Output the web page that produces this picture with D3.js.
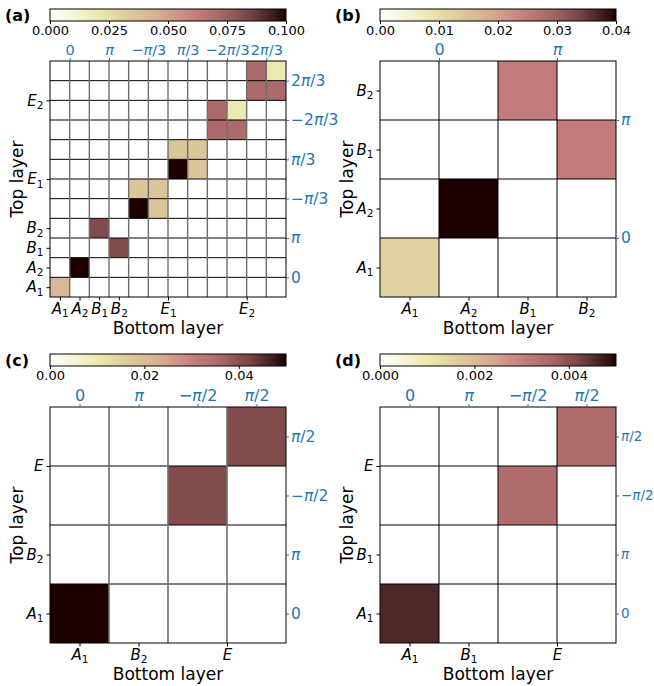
<!DOCTYPE html>
<html><head><meta charset="utf-8">
<script src="https://cdn.jsdelivr.net/npm/d3@7"></script>
<style>body{margin:0;background:#fff} svg text{font-family:"DejaVu Sans",sans-serif}</style>
</head><body>
<svg id="fig" width="654" height="686"></svg>
<script>
// ---------------- DATA ----------------
// Colormap stops (fraction of colour range -> colour)
const cmapStops = [0, 0.10, 0.22, 0.35, 0.48, 0.60, 0.72, 0.85, 0.95, 1.0];
const cmapColors = ["#fefefa","#f6f4dc","#e9e7aa","#dcc79c","#d4a990","#c88080","#aa6868","#754444","#3a1c1c","#1c0000"];

// Panel (a): 12x12, rows from bottom (index 0) to top (index 11)
const aBottomTicks = [0, 1, 2, 3, 5.5, 9.5];
const aBottomLabels = ["A_1","A_2","B_1","B_2","E_1","E_2"];
const aLeftTicks = [0, 1, 2, 3, 5.5, 9.5];
const aLeftLabels = ["A_1","A_2","B_1","B_2","E_1","E_2"];
const aTopTicks = [0.5, 2.5, 4.5, 6.5, 8.5, 10.5];
const aTopLabels = ["0","π","−π/3","π/3","−2π/3","2π/3"];
const aRightTicks = [0.5, 2.5, 4.5, 6.5, 8.5, 10.5];
const aRightLabels = ["0","π","−π/3","π/3","−2π/3","2π/3"];
const aCbTicks = [0, 0.025, 0.05, 0.075, 0.1];
const aCbMax = 0.1;
const aValues = [
  [0.042,0,0,0,0,0,0,0,0,0,0,0],
  [0,0.1,0,0,0,0,0,0,0,0,0,0],
  [0,0,0,0.082,0,0,0,0,0,0,0,0],
  [0,0,0.082,0,0,0,0,0,0,0,0,0],
  [0,0,0,0,0.1,0.036,0,0,0,0,0,0],
  [0,0,0,0,0.036,0.036,0,0,0,0,0,0],
  [0,0,0,0,0,0,0.1,0.036,0,0,0,0],
  [0,0,0,0,0,0,0.036,0.036,0,0,0,0],
  [0,0,0,0,0,0,0,0,0.071,0.071,0,0],
  [0,0,0,0,0,0,0,0,0.071,0.02,0,0],
  [0,0,0,0,0,0,0,0,0,0,0.071,0.071],
  [0,0,0,0,0,0,0,0,0,0,0.071,0.02]
];

// Panel (b): 4x4
const bBottomTicks = [0, 1, 2, 3];
const bBottomLabels = ["A_1","A_2","B_1","B_2"];
const bLeftTicks = [0, 1, 2, 3];
const bLeftLabels = ["A_1","A_2","B_1","B_2"];
const bTopTicks = [0.5, 2.5];
const bTopLabels = ["0","π"];
const bRightTicks = [0.5, 2.5];
const bRightLabels = ["0","π"];
const bCbTicks = [0, 0.01, 0.02, 0.03, 0.04];
const bCbMax = 0.04;
const bValues = [
  [0.012,0,0,0],
  [0,0.04,0,0],
  [0,0,0,0.025],
  [0,0,0.025,0]
];

// Panel (c): 4x4
const cBottomTicks = [0, 1, 2.5];
const cBottomLabels = ["A_1","B_2","E"];
const cLeftTicks = [0, 1, 2.5];
const cLeftLabels = ["A_1","B_2","E"];
const cTopTicks = [0, 1, 2, 3];
const cTopLabels = ["0","π","−π/2","π/2"];
const cRightTicks = [0, 1, 2, 3];
const cRightLabels = ["0","π","−π/2","π/2"];
const cCbTicks = [0, 0.02, 0.04];
const cCbMax = 0.05;
const cValues = [
  [0.05,0,0,0],
  [0,0,0,0],
  [0,0,0.041,0],
  [0,0,0,0.041]
];

// Panel (d): 4x4
const dBottomTicks = [0, 1, 2.5];
const dBottomLabels = ["A_1","B_1","E"];
const dLeftTicks = [0, 1, 2.5];
const dLeftLabels = ["A_1","B_1","E"];
const dTopTicks = [0, 1, 2, 3];
const dTopLabels = ["0","π","−π/2","π/2"];
const dRightTicks = [0, 1, 2, 3];
const dRightLabels = ["0","π","−π/2","π/2"];
const dCbTicks = [0, 0.002, 0.004];
const dCbMax = 0.005;
const dValues = [
  [0.0046,0,0,0],
  [0,0,0,0],
  [0,0,0.0035,0],
  [0,0,0,0.0035]
];

// ---------------- DRAWING ----------------
const svg = d3.select("#fig");
const BLUE = "#1f77b4";

function richLabel(textSel, s, size) {
  textSel.text(null);
  const sub = s.split("_");
  const main = sub[0];
  for (const ch of main) {
    textSel.append("tspan").text(ch)
      .style("font-style", (ch === "π" || /[A-Z]/.test(ch)) ? "italic" : "normal");
  }
  if (sub.length > 1) {
    textSel.append("tspan").text(sub[1])
      .attr("font-size", size * 0.7)
      .attr("dy", size * 0.22);
  }
}

const panels = [
  {id:"(a)", gx:50, gy:61, cbY:9, vals:aValues, cbMax:aCbMax, cbTicks:aCbTicks, cbFmt:".3f", tfs:14.5, rfs:15.5,
   bt:aBottomTicks, bl:aBottomLabels, lt:aLeftTicks, ll:aLeftLabels, tt:aTopTicks, tl:aTopLabels, rt:aRightTicks, rl:aRightLabels, vcol:"#6f6f6f", vw:1.4},
  {id:"(b)", gx:380, gy:61, cbY:9, vals:bValues, cbMax:bCbMax, cbTicks:bCbTicks, cbFmt:".2f", tfs:16, rfs:15.5,
   bt:bBottomTicks, bl:bBottomLabels, lt:bLeftTicks, ll:bLeftLabels, tt:bTopTicks, tl:bTopLabels, rt:bRightTicks, rl:bRightLabels, vcol:"#000", vw:1},
  {id:"(c)", gx:50, gy:407, cbY:354, vals:cValues, cbMax:cCbMax, cbTicks:cCbTicks, cbFmt:".2f", tfs:16, rfs:15.5,
   bt:cBottomTicks, bl:cBottomLabels, lt:cLeftTicks, ll:cLeftLabels, tt:cTopTicks, tl:cTopLabels, rt:cRightTicks, rl:cRightLabels, vcol:"#6f6f6f", vw:1.6},
  {id:"(d)", gx:380, gy:407, cbY:354, vals:dValues, cbMax:dCbMax, cbTicks:dCbTicks, cbFmt:".3f", tfs:16, rfs:13.5,
   bt:dBottomTicks, bl:dBottomLabels, lt:dLeftTicks, ll:dLeftLabels, tt:dTopTicks, tl:dTopLabels, rt:dRightTicks, rl:dRightLabels, vcol:"#000", vw:1}
];

const W = 236, H = 236, CBH = 12;
const defs = svg.append("defs");

panels.forEach((p, pi) => {
  const n = p.vals.length;
  const g = svg.append("g");
  const x = d3.scaleLinear().domain([-0.5, n - 0.5]).range([p.gx, p.gx + W]);
  const y = d3.scaleLinear().domain([-0.5, n - 0.5]).range([p.gy + H, p.gy]);
  const color = d3.scaleLinear()
    .domain(cmapStops.map(f => f * p.cbMax))
    .range(cmapColors).clamp(true);

  // cells
  const cells = [];
  p.vals.forEach((row, r) => row.forEach((v, c) => cells.push({r, c, v})));
  g.selectAll("rect.cell").data(cells).join("rect")
    .attr("x", d => x(d.c - 0.5)).attr("y", d => y(d.r + 0.5))
    .attr("width", d => x(d.c + 0.5) - x(d.c - 0.5))
    .attr("height", d => y(d.r - 0.5) - y(d.r + 0.5))
    .attr("fill", d => d.v > 0 ? color(d.v) : "#ffffff");

  // grid lines
  const bounds = d3.range(1, n).map(i => i - 0.5);
  g.selectAll("line.h").data(bounds).join("line")
    .attr("x1", x(-0.5)).attr("x2", x(n - 0.5))
    .attr("y1", d => y(d)).attr("y2", d => y(d))
    .attr("stroke", "#000").attr("stroke-width", 1);
  g.selectAll("line.v").data(bounds).join("line")
    .attr("y1", y(-0.5)).attr("y2", y(n - 0.5))
    .attr("x1", d => x(d)).attr("x2", d => x(d))
    .attr("stroke", p.vcol).attr("stroke-width", p.vw);
  g.append("rect").attr("x", p.gx).attr("y", p.gy).attr("width", W).attr("height", H)
    .attr("fill", "none").attr("stroke", "#000").attr("stroke-width", 1);

  // axes
  const fs = 15;
  const axB = g.append("g").attr("transform", `translate(0,${p.gy + H})`)
    .call(d3.axisBottom(x).tickValues(p.bt).tickSize(3.5).tickPadding(3).tickFormat(""));
  axB.selectAll("text").each(function(d, i){ richLabel(d3.select(this), p.bl[i], fs); }).attr("font-size", fs).attr("fill", "#000");
  const axL = g.append("g").attr("transform", `translate(${p.gx},0)`)
    .call(d3.axisLeft(y).tickValues(p.lt).tickSize(3.5).tickPadding(3).tickFormat(""));
  axL.selectAll("text").each(function(d, i){ richLabel(d3.select(this), p.ll[i], fs); }).attr("font-size", fs).attr("fill", "#000");
  const axT = g.append("g").attr("transform", `translate(0,${p.gy})`)
    .call(d3.axisTop(x).tickValues(p.tt).tickSize(3).tickPadding(3.5).tickFormat(""));
  axT.selectAll("text").each(function(d, i){ richLabel(d3.select(this), p.tl[i], p.tfs); }).attr("font-size", p.tfs).attr("fill", BLUE);
  axT.selectAll("line").attr("stroke", BLUE);
  const axR = g.append("g").attr("transform", `translate(${p.gx + W},0)`)
    .call(d3.axisRight(y).tickValues(p.rt).tickSize(3).tickPadding(2).tickFormat(""));
  axR.selectAll("text").each(function(d, i){ richLabel(d3.select(this), p.rl[i], p.rfs); }).attr("font-size", p.rfs).attr("fill", BLUE);
  axR.selectAll("line").attr("stroke", BLUE);
  [axB, axL, axT, axR].forEach(a => { a.select(".domain").remove(); a.attr("font-family", null); });

  // axis titles
  g.append("text").attr("x", p.gx + W / 2).attr("y", p.gy + H + 37)
    .attr("text-anchor", "middle").attr("font-size", 17).text("Bottom layer");
  g.append("text").attr("transform", `translate(${p.gx - 27},${p.gy + H / 2}) rotate(-90)`)
    .attr("text-anchor", "middle").attr("font-size", 17).text("Top layer");

  // colorbar
  const gradId = "grad" + pi;
  const grad = defs.append("linearGradient").attr("id", gradId).attr("x1", "0%").attr("x2", "100%");
  grad.selectAll("stop").data(cmapStops).join("stop")
    .attr("offset", d => d * 100 + "%").attr("stop-color", (d, i) => cmapColors[i]);
  g.append("rect").attr("x", p.gx).attr("y", p.cbY).attr("width", W).attr("height", CBH)
    .attr("fill", `url(#${gradId})`).attr("stroke", "#000").attr("stroke-width", 1);
  const cbx = d3.scaleLinear().domain([0, p.cbMax]).range([p.gx, p.gx + W]);
  const axC = g.append("g").attr("transform", `translate(0,${p.cbY + CBH})`)
    .call(d3.axisBottom(cbx).tickValues(p.cbTicks).tickSize(3).tickPadding(1.5).tickFormat(d3.format(p.cbFmt)));
  axC.select(".domain").remove();
  axC.attr("font-family", null).attr("font-size", 13);
  axC.selectAll("text").attr("fill", "#000");

  // panel label
  g.append("text").attr("x", p.gx - 45).attr("y", p.cbY + 12)
    .attr("font-size", 16).attr("font-weight", "bold").text(p.id);
});
</script>
</body></html>
